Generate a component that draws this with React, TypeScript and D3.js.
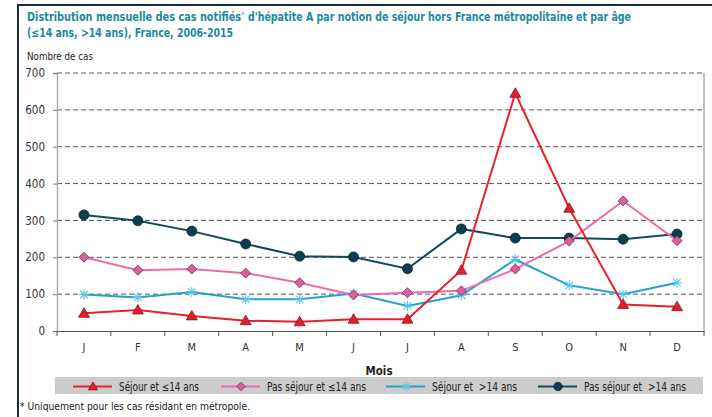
import { useRef, useEffect } from 'react';
import * as d3 from 'd3';

const months = ['J', 'F', 'M', 'A', 'M', 'J', 'J', 'A', 'S', 'O', 'N', 'D'];
const sejourJeunes = [48, 57, 41, 28, 25, 32, 32, 165, 645, 333, 72, 66];
const pasSejourJeunes = [200, 165, 168, 157, 131, 98, 104, 109, 168, 244, 353, 245];
const sejourAdultes = [99, 91, 106, 86, 86, 102, 68, 97, 194, 124, 100, 131];
const pasSejourAdultes = [315, 299, 271, 236, 203, 201, 169, 277, 252, 252, 249, 263];
const yTicks = [0, 100, 200, 300, 400, 500, 600, 700];

const seriesNames = [
  'Séjour et ≤14 ans',
  'Pas séjour et ≤14 ans',
  'Séjour et  >14 ans',
  'Pas séjour et  >14 ans',
];

const FONT = "'Liberation Sans Narrow', 'DejaVu Sans Condensed', 'Arial Narrow', sans-serif";

type Marker = 'triangle' | 'diamond' | 'star' | 'circle';

const series = [
  { name: seriesNames[0], values: sejourJeunes, line: '#e8212b', fill: '#e01f2a', stroke: '#8a1a1a', marker: 'triangle' as Marker },
  { name: seriesNames[1], values: pasSejourJeunes, line: '#f06aa6', fill: '#dc5f9c', stroke: '#6a3050', marker: 'diamond' as Marker },
  { name: seriesNames[2], values: sejourAdultes, line: '#22a3cc', fill: 'none', stroke: '#5cc6ea', marker: 'star' as Marker },
  { name: seriesNames[3], values: pasSejourAdultes, line: '#0f4b5a', fill: '#0b3f4c', stroke: '#062a33', marker: 'circle' as Marker },
];

// widths of the legend labels in the reference
const legendX = [73, 221, 386, 538];
const legendTextW = [80, 99, 85, 102];

const drawMarker = (g: d3.Selection<SVGGElement, unknown, null, undefined>, m: Marker, x: number, y: number, fill: string, stroke: string, s = 1) => {
  if (m === 'triangle') {
    g.append('path').attr('d', `M${x},${y - 5.5 * s}L${x + 5.5 * s},${y + 4 * s}L${x - 5.5 * s},${y + 4 * s}Z`).attr('fill', fill).attr('stroke', stroke).attr('stroke-width', 0.8);
  } else if (m === 'diamond') {
    g.append('path').attr('d', `M${x},${y - 5 * s}L${x + 5 * s},${y}L${x},${y + 5 * s}L${x - 5 * s},${y}Z`).attr('fill', fill).attr('stroke', stroke).attr('stroke-width', 0.8);
  } else if (m === 'star') {
    const r = 5 * s;
    const p = `M${x - r},${y}L${x + r},${y}M${x},${y - r}L${x},${y + r}M${x - r * 0.75},${y - r * 0.75}L${x + r * 0.75},${y + r * 0.75}M${x - r * 0.75},${y + r * 0.75}L${x + r * 0.75},${y - r * 0.75}`;
    g.append('path').attr('d', p).attr('fill', 'none').attr('stroke', stroke).attr('stroke-width', 1.1);
  } else {
    g.append('circle').attr('cx', x).attr('cy', y).attr('r', 5 * s).attr('fill', fill).attr('stroke', stroke).attr('stroke-width', 0.8);
  }
};

const App = () => {
  const svgRef = useRef<SVGSVGElement>(null);

  useEffect(() => {
    if (!svgRef.current) return;
    const width = 712;
    const height = 417;
    const left = 57;
    const right = 704;
    const top = 73;
    const bottom = 331;

    const svg = d3.select(svgRef.current);
    svg.selectAll('*').remove();

    svg.append('rect').attr('width', width).attr('height', height).attr('fill', '#fff');

    // frame
    svg.append('path').attr('d', `M18,417V5H712`).attr('fill', 'none').attr('stroke', '#1d2b3d').attr('stroke-width', 2);

    // title
    const titleText = (tx: number, ty: number, len: number, txt: string, size = 12) =>
      svg.append('text').attr('font-family', FONT).attr('font-weight', 'bold').attr('font-size', size)
        .attr('fill', '#1a8a9d').attr('x', tx).attr('y', ty)
        .attr('textLength', len).attr('lengthAdjust', 'spacingAndGlyphs').text(txt);
    const t1 = titleText(27, 21, 217, 'Distribution mensuelle des cas notifiés');
    t1.append('tspan').attr('font-size', 7).attr('font-weight', 'normal').attr('baseline-shift', '60%').text('*');
    titleText(248, 21, 383, "d'hépatite A par notion de séjour hors France métropolitaine et par âge");
    titleText(27, 37, 206, '(≤14 ans, >14 ans), France, 2006-2015');

    svg.append('text').attr('font-family', FONT).attr('font-size', 10.5).attr('fill', '#222')
      .attr('x', 27).attr('y', 60).attr('textLength', 66).attr('lengthAdjust', 'spacingAndGlyphs').text('Nombre de cas');

    const x = d3.scaleBand().domain(months.map((_, i) => String(i))).range([left, right]);
    const y = d3.scaleLinear().domain([0, 700]).range([bottom, top]);

    // grid
    svg.append('g').selectAll('line').data(yTicks.filter((t) => t > 0)).enter().append('line')
      .attr('x1', left).attr('x2', right).attr('y1', (d) => y(d)).attr('y2', (d) => y(d))
      .attr('stroke', '#555').attr('stroke-width', 1).attr('stroke-dasharray', '5,3');

    // right border
    svg.append('line').attr('x1', right).attr('x2', right).attr('y1', top).attr('y2', bottom).attr('stroke', '#888').attr('stroke-width', 1);

    // y axis
    const yAxis = svg.append('g').attr('transform', `translate(${left},0)`)
      .call(d3.axisLeft(y).tickValues(yTicks).tickSize(4).tickPadding(8));
    yAxis.select('.domain').attr('stroke', '#aaa').attr('stroke-width', 1.5);
    yAxis.selectAll('.tick line').attr('stroke', '#777');
    yAxis.selectAll('text').attr('font-family', FONT).attr('font-size', 11.5).attr('fill', '#333');

    // x axis
    const xAxis = svg.append('g').attr('transform', `translate(0,${bottom})`)
      .call(d3.axisBottom(x).tickSize(0).tickPadding(12).tickFormat((d) => months[+d]));
    xAxis.select('.domain').attr('stroke', '#555').attr('stroke-width', 1.2);
    xAxis.selectAll('text').attr('font-family', FONT).attr('font-size', 11).attr('fill', '#333');
    svg.append('g').selectAll('line').data(d3.range(13)).enter().append('line')
      .attr('x1', (i) => left + i * x.bandwidth()).attr('x2', (i) => left + i * x.bandwidth())
      .attr('y1', bottom).attr('y2', bottom + 5).attr('stroke', '#555');

    svg.append('text').attr('font-family', FONT).attr('font-weight', 'bold').attr('font-size', 11.5).attr('fill', '#222')
      .attr('x', 379).attr('y', 375).attr('text-anchor', 'middle').text('Mois');

    const cx = (i: number) => (x(String(i)) ?? 0) + x.bandwidth() / 2;
    const lineGen = d3.line<number>().x((_, i) => cx(i)).y((d) => y(d));

    // draw order: dark, cyan, pink, red (red on top)
    [3, 2, 1, 0].forEach((si) => {
      const s = series[si];
      const g = svg.append('g');
      g.append('path').attr('d', lineGen(s.values)).attr('fill', 'none').attr('stroke', s.line).attr('stroke-width', 2);
      s.values.forEach((v, i) => drawMarker(g, s.marker, cx(i), y(v), s.fill, s.stroke));
    });

    // legend
    svg.append('rect').attr('x', 55).attr('y', 377).attr('width', 648).attr('height', 17).attr('fill', '#cccccc');
    series.forEach((s, i) => {
      const g = svg.append('g');
      const lx = legendX[i];
      g.append('line').attr('x1', lx).attr('x2', lx + 39).attr('y1', 386.5).attr('y2', 386.5).attr('stroke', s.line).attr('stroke-width', 2);
      drawMarker(g, s.marker, lx + 20, 386.5, s.fill, s.stroke, 0.85);
      g.append('text').attr('font-family', FONT).attr('font-size', 11.5).attr('fill', '#222')
        .attr('x', lx + 46).attr('y', 390.5).attr('textLength', legendTextW[i]).attr('lengthAdjust', 'spacingAndGlyphs')
        .style('white-space', 'pre').text(s.name);
    });

    svg.append('text').attr('font-family', FONT).attr('font-size', 10.5).attr('fill', '#222')
      .attr('x', 20).attr('y', 410).attr('textLength', 230).attr('lengthAdjust', 'spacingAndGlyphs')
      .text('* Uniquement pour les cas résidant en métropole.');
  }, []);

  return (
    <div style={{ position: 'absolute', left: 0, top: 0 }}>
      <svg ref={svgRef} width={712} height={417} style={{ display: 'block' }}></svg>
    </div>
  );
};

export default App;
